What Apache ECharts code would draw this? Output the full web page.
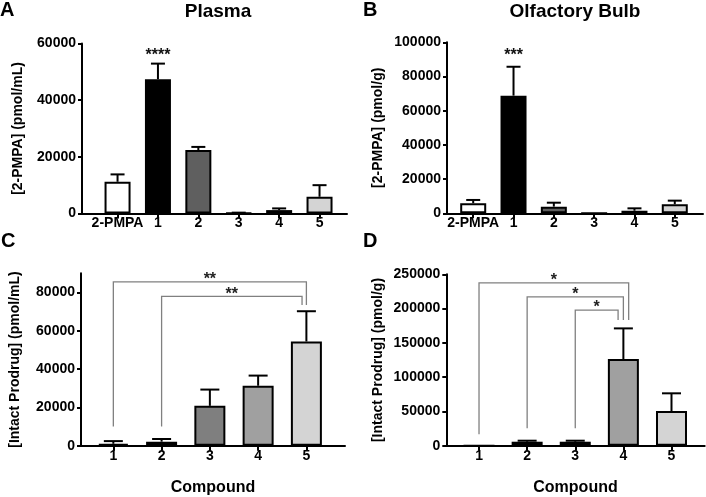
<!DOCTYPE html>
<html>
<head>
<meta charset="utf-8">
<script src="https://cdn.jsdelivr.net/npm/echarts@6/dist/echarts.min.js"></script>
<style>
html, body { margin: 0; padding: 0; background: #fff; }
#main { width: 706px; height: 497px; }
</style>
</head>
<body>
<div id="main"></div>
<script>
// categories
var catsTop = ['2-PMPA', '1', '2', '3', '4', '5'];
var catsBottom = ['1', '2', '3', '4', '5'];

// A: 2-PMPA in plasma (mean, SD)
var plasmaMean = [11200, 47400, 22400, 200, 1200, 5900];
var plasmaSd = [2600, 5500, 1100, 100, 600, 4100];
// B: 2-PMPA in olfactory bulb
var bulbMean = [5900, 68800, 3900, 0, 1500, 5300];
var bulbSd = [1900, 16900, 2300, 0, 1400, 2100];
// C: intact prodrug in plasma
var prodPlasmaMean = [1000, 2100, 20800, 31300, 54400];
var prodPlasmaSd = [1400, 1400, 8500, 5300, 15800];
// D: intact prodrug in olfactory bulb
var prodBulbMean = [0, 5800, 5800, 126300, 50500];
var prodBulbSd = [0, 1500, 1500, 44800, 25900];

// y tick labels
var ticksA = [0, 20000, 40000, 60000];
var ticksB = [0, 20000, 40000, 60000, 80000, 100000];
var ticksC = [0, 20000, 40000, 60000, 80000];
var ticksD = [0, 50000, 100000, 150000, 200000, 250000];

// brackets: [from, to, left leg bottom, top, right leg bottom, label]
var bracketsC = [[0, 4, 10000, 85500, 73500, '**'], [1, 3.91, 10000, 78000, 73500, '**']];
var bracketsD = [[0, 3.11, 16600, 237600, 183200, '*'], [1, 3, 25400, 217200, 183200, '*'], [2, 2.89, 25400, 197800, 183200, '*']];
// stars over a single bar: [x, y, label]
var starsA = [[1, 57100, '****']];
var starsB = [[1, 94500, '***']];

var fillTop = ['#ffffff', '#000000', '#5f5f5f', '#7f7f7f', '#a0a0a0', '#d4d4d4'];
var fillBottom = fillTop.slice(1);

var FONT = 'Liberation Sans, Arial, sans-serif';
var myChart = echarts.init(document.getElementById('main'));

function errorSeries(g, mean, sd, capW) {
	return {
		type: 'custom',
		xAxisIndex: g, yAxisIndex: g,
		z: 3,
		data: mean.map(function (v, i) { return [i, v + sd[i]]; }),
		renderItem: function (params, api) {
			var i = params.dataIndex;
			if (!sd[i]) return null;
			var lo = api.coord([i, mean[i]]);
			var hi = api.coord([i, mean[i] + sd[i]]);
			var st = { stroke: '#000', lineWidth: 2 };
			return {
				type: 'group',
				children: [
					{ type: 'line', shape: { x1: lo[0], y1: lo[1], x2: hi[0], y2: hi[1] }, style: st },
					{ type: 'line', shape: { x1: hi[0] - capW / 2, y1: hi[1], x2: hi[0] + capW / 2, y2: hi[1] }, style: st }
				]
			};
		}
	};
}

function bracketSeries(g, list) {
	return {
		type: 'custom',
		xAxisIndex: g, yAxisIndex: g,
		z: 4,
		data: list.map(function (b) { return [b[0], b[3]]; }),
		renderItem: function (params, api) {
			var b = list[params.dataIndex];
			var p1 = api.coord([b[0], b[2]]);
			var p2 = api.coord([b[0], b[3]]);
			var p3 = api.coord([b[1], b[3]]);
			var p4 = api.coord([b[1], b[4]]);
			return {
				type: 'group',
				children: [
					{ type: 'polyline', shape: { points: [p1, p2, p3, p4] }, style: { stroke: '#808080', lineWidth: 1.3, fill: null } },
					{ type: 'text', x: (p2[0] + p3[0]) / 2, y: p2[1] - 2, style: { text: b[5], font: 'bold 16px ' + FONT, fill: '#222', align: 'center', verticalAlign: 'middle' } }
				]
			};
		}
	};
}

function starSeries(g, list) {
	return {
		type: 'custom',
		xAxisIndex: g, yAxisIndex: g,
		z: 4,
		data: list.map(function (s) { return [s[0], s[1]]; }),
		renderItem: function (params, api) {
			var s = list[params.dataIndex];
			var p = api.coord([s[0], s[1]]);
			return { type: 'text', x: p[0], y: p[1] + 4, style: { text: s[2], font: 'bold 16px ' + FONT, fill: '#111', align: 'center', verticalAlign: 'middle' } };
		}
	};
}

function xAxisOf(g, cats, min, max, name) {
	var idx = cats.map(function (c, i) { return i; });
	return {
		type: 'value', gridIndex: g, min: min, max: max,
		name: name, nameLocation: 'middle', nameGap: 34,
		nameTextStyle: { fontFamily: FONT, fontWeight: 'bold', fontSize: 16, color: '#000' },
		splitLine: { show: false },
		axisLine: { onZero: false, lineStyle: { color: '#000', width: 2 } },
		axisTick: { show: true, length: 5, lineStyle: { width: 2 }, customValues: idx },
		axisLabel: {
			customValues: idx, margin: 3, color: '#000',
			fontFamily: FONT, fontWeight: 'bold', fontSize: 14,
			formatter: function (v) { return cats[Math.round(v)]; }
		}
	};
}

function yAxisOf(g, ticks, max, name, gap) {
	return {
		type: 'value', gridIndex: g, min: 0, max: max,
		name: name, nameLocation: 'middle', nameGap: gap,
		nameTextStyle: { fontFamily: FONT, fontWeight: 'bold', fontSize: 14, color: '#000' },
		splitLine: { show: false },
		axisLine: { show: true, onZero: false, lineStyle: { color: '#000', width: 2 } },
		axisTick: { show: true, length: 4, lineStyle: { width: 2 }, customValues: ticks },
		axisLabel: {
			customValues: ticks, margin: 6, color: '#000', fontFamily: FONT, fontWeight: 'bold', fontSize: 14,
			formatter: function (v) { return String(v); }
		}
	};
}

function barSeries(g, mean, fills, w) {
	return {
		type: 'bar',
		xAxisIndex: g, yAxisIndex: g,
		barWidth: w,
		data: mean.map(function (v, i) {
			return { value: [i, v], itemStyle: { color: fills[i], borderColor: '#000', borderWidth: 2 } };
		})
	};
}

var option = {
	animation: false,
	title: [
		{ text: 'A', left: 0, top: 0, padding: 0, textStyle: { fontFamily: FONT, fontWeight: 'bold', fontSize: 20, color: '#000' } },
		{ text: 'B', left: 363, top: 0, padding: 0, textStyle: { fontFamily: FONT, fontWeight: 'bold', fontSize: 20, color: '#000' } },
		{ text: 'C', left: 1, top: 231, padding: 0, textStyle: { fontFamily: FONT, fontWeight: 'bold', fontSize: 20, color: '#000' } },
		{ text: 'D', left: 363, top: 231, padding: 0, textStyle: { fontFamily: FONT, fontWeight: 'bold', fontSize: 20, color: '#000' } },
		{ text: 'Plasma', left: 218, top: 2, padding: 0, textAlign: 'center', textStyle: { fontFamily: FONT, fontWeight: 'bold', fontSize: 19, color: '#000' } },
		{ text: 'Olfactory Bulb', left: 575, top: 2, padding: 0, textAlign: 'center', textStyle: { fontFamily: FONT, fontWeight: 'bold', fontSize: 19, color: '#000' } }
	],
	grid: [
		{ left: 82, top: 43.5, width: 265, height: 170 },
		{ left: 447, top: 42.3, width: 256, height: 171 },
		{ left: 81, top: 273.3, width: 264, height: 172.4 },
		{ left: 446.3, top: 274.3, width: 258.4, height: 171.4 }
	],
	xAxis: [
		xAxisOf(0, catsTop, -0.88, 5.68, ''),
		xAxisOf(1, catsTop, -0.65, 5.7, ''),
		xAxisOf(2, catsBottom, -0.67, 4.8, 'Compound'),
		xAxisOf(3, catsBottom, -0.68, 4.69, 'Compound')
	],
	yAxis: [
		yAxisOf(0, ticksA, 60000, '[2-PMPA] (pmol/mL)', 57),
		yAxisOf(1, ticksB, 100000, '[2-PMPA] (pmol/g)', 62),
		yAxisOf(2, ticksC, 90000, '[Intact Prodrug] (pmol/mL)', 59),
		yAxisOf(3, ticksD, 250000, '[Intact Prodrug] (pmol/g)', 61)
	],
	series: [
		barSeries(0, plasmaMean, fillTop, 26),
		errorSeries(0, plasmaMean, plasmaSd, 14),
		starSeries(0, starsA),
		barSeries(1, bulbMean, fillTop, 26),
		errorSeries(1, bulbMean, bulbSd, 14),
		starSeries(1, starsB),
		barSeries(2, prodPlasmaMean, fillBottom, 31),
		errorSeries(2, prodPlasmaMean, prodPlasmaSd, 19),
		bracketSeries(2, bracketsC),
		barSeries(3, prodBulbMean, fillBottom, 31),
		errorSeries(3, prodBulbMean, prodBulbSd, 19),
		bracketSeries(3, bracketsD)
	]
};

myChart.setOption(option);
</script>
</body>
</html>
